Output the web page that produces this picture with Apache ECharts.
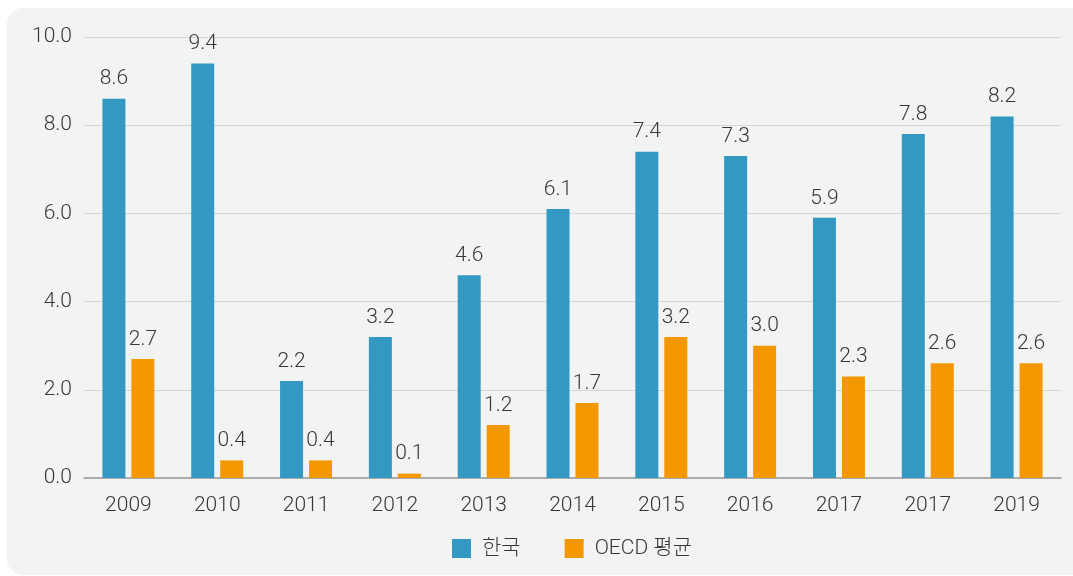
<!DOCTYPE html>
<html>
<head>
<meta charset="utf-8">
<script src="https://cdn.jsdelivr.net/npm/echarts@6/dist/echarts.min.js"></script>
<style>
  html, body { margin: 0; padding: 0; background: #fff; }
  #box { position: absolute; left: 7px; top: 8px; width: 1080px; height: 567px; background: #f2f3f3; border-radius: 16px; }
  #chart { position: absolute; left: 0; top: 0; width: 1073px; height: 576px; }
</style>
</head>
<body>
<div id="box"></div>
<div id="chart"></div>
<script>
var years = ['2009', '2010', '2011', '2012', '2013', '2014', '2015', '2016', '2017', '2017', '2019'];
var korea = [8.6, 9.4, 2.2, 3.2, 4.6, 6.1, 7.4, 7.3, 5.9, 7.8, 8.2];
var oecd = [2.7, 0.4, 0.4, 0.1, 1.2, 1.7, 3.2, 3.0, 2.3, 2.6, 2.6];

var font = 'Roboto, "Noto Sans CJK KR", sans-serif';
var labelStyle = {
    show: true,
    position: 'top',
    distance: 9,
    color: '#3a3636',
    fontSize: 21,
    fontWeight: 300,
    fontFamily: font,
    formatter: function (p) { return p.value.toFixed(1); }
};

var myChart = echarts.init(document.getElementById('chart'));
var option = {
    animation: false,
    backgroundColor: 'transparent',
    grid: { left: 84, right: 12, top: 37, bottom: 98 },
    legend: {
        bottom: 12,
        left: 447,
        itemWidth: 19,
        itemHeight: 19,
        itemGap: 44,
        icon: 'rect',
        textStyle: { color: '#3a3636', fontSize: 21, fontWeight: 300, fontFamily: font, padding: [0, 0, 0, 6] },
        data: ['한국', 'OECD 평균']
    },
    xAxis: {
        type: 'category',
        data: years,
        axisTick: { show: false },
        axisLine: { lineStyle: { color: '#9a9a9a', width: 1.5 } },
        axisLabel: { color: '#3a3636', fontSize: 21, fontWeight: 300, fontFamily: font, margin: 17 }
    },
    yAxis: {
        type: 'value',
        min: 0,
        max: 10,
        interval: 2,
        axisLabel: {
            color: '#3a3636', fontSize: 21, fontWeight: 300, fontFamily: font, margin: 12,
            formatter: function (v) { return v.toFixed(1); }
        },
        splitLine: { lineStyle: { color: '#d4d6d6' } }
    },
    series: [{
        name: '한국',
        type: 'bar',
        data: korea,
        barWidth: 23,
        barGap: '26%',
        itemStyle: { color: '#3399c3' },
        label: labelStyle
    }, {
        name: 'OECD 평균',
        type: 'bar',
        data: oecd,
        barWidth: 23,
        itemStyle: { color: '#f39800' },
        label: labelStyle
    }]
};
myChart.setOption(option);
</script>
</body>
</html>
